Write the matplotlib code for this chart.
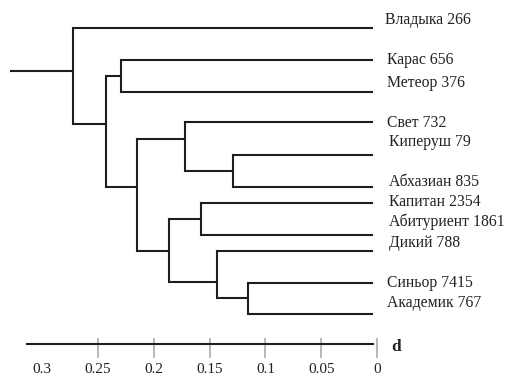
import matplotlib
matplotlib.use("Agg")
import matplotlib.pyplot as plt

# ---------------- data ----------------
leaves = ["Владыка 266", "Карас 656", "Метеор 376", "Свет 732", "Киперуш 79",
          "Абхазиан 835", "Капитан 2354", "Абитуриент 1861", "Дикий 788",
          "Синьор 7415", "Академик 767"]
# merges: (child1, child2, height d); leaves are 0..10, new nodes 11..
merges = [
    (1, 2, 0.229),     # 11
    (4, 5, 0.129),     # 12
    (3, 12, 0.172),    # 13
    (6, 7, 0.158),     # 14
    (9, 10, 0.116),    # 15
    (8, 15, 0.143),    # 16
    (14, 16, 0.186),   # 17
    (13, 17, 0.215),   # 18
    (11, 18, 0.243),   # 19
    (0, 19, 0.272),    # 20
]
root_d = 0.329
tick_vals = [0.3, 0.25, 0.2, 0.15, 0.1, 0.05, 0]
tick_labels = ["0.3", "0.25", "0.2", "0.15", "0.1", "0.05", "0"]
axis_name = "d"

# ---------------- layout ----------------
leaf_end = 0.0036
leaf_row = [28, 60, 92, 122, 155, 187, 203, 235, 251, 283, 314]
node_row = {11: 76, 12: 171, 13: 139, 14: 219, 15: 298, 16: 282,
            17: 251, 18: 187, 19: 124, 20: 71}
label_row = [20, 60, 83, 123, 142, 182, 202, 222, 243, 283, 303]
label_x = [385, 387, 387, 387, 389, 389, 389, 389, 389, 387, 387]

W, H = 521, 376
fig = plt.figure(figsize=(W / 100, H / 100), dpi=100)
ax = fig.add_axes([0, (H - 344) / H, 1, 344 / H])
scale = 1116.0
zero_px = 377.0
ax.set_xlim(zero_px / scale, (zero_px - W) / scale)
ax.set_ylim(344, 0)

lc = "#1e1e1e"
lw = 1.5

def pos(i):
    if i < len(leaves):
        return leaf_end, leaf_row[i]
    return merges[i - len(leaves)][2], node_row[i]

for k, (a, b, h) in enumerate(merges):
    xa, ya = pos(a)
    xb, yb = pos(b)
    ax.plot([xa, h], [ya, ya], color=lc, lw=lw, solid_capstyle="butt", clip_on=False)
    ax.plot([xb, h], [yb, yb], color=lc, lw=lw, solid_capstyle="butt", clip_on=False)
    ax.plot([h, h], [ya, yb], color=lc, lw=lw, solid_capstyle="projecting", clip_on=False)

# root stem
top = len(leaves) + len(merges) - 1
ax.plot([merges[-1][2], root_d], [node_row[top], node_row[top]], color=lc, lw=lw,
        solid_capstyle="butt", clip_on=False)

serif = ["Liberation Serif", "DejaVu Serif"]
for i, name in enumerate(leaves):
    xd = (zero_px - label_x[i]) / scale
    ax.text(xd, label_row[i], name, fontsize=11.3, family=serif, color="#222222",
            ha="left", va="center")

# axis
for s in ["top", "left", "right"]:
    ax.spines[s].set_visible(False)
ax.spines["bottom"].set_bounds(0.3136, leaf_end)
ax.spines["bottom"].set_color(lc)
ax.spines["bottom"].set_linewidth(1.5)
ax.set_yticks([])
ax.set_xticks(tick_vals)
ax.set_xticklabels(tick_labels, family=serif, fontsize=11, color="#222222")
ax.set_xticks(tick_vals, minor=True)
ax.xaxis.remove_overlapping_locs = False
ax.tick_params(axis="x", which="major", direction="out", length=10, width=1.2,
               color="#aaaaaa", pad=4)
ax.tick_params(axis="x", which="minor", direction="in", length=4, width=1.2,
               color="#aaaaaa")
ax.xaxis.get_major_ticks()[0].tick1line.set_visible(False)
ax.xaxis.get_minor_ticks()[0].tick1line.set_visible(False)
ax.text((zero_px - 391) / scale, 347, axis_name, family=serif, fontsize=12.5,
        fontweight="bold", ha="left", va="center", color="#222222")

fig.savefig("out.png", dpi=100)
